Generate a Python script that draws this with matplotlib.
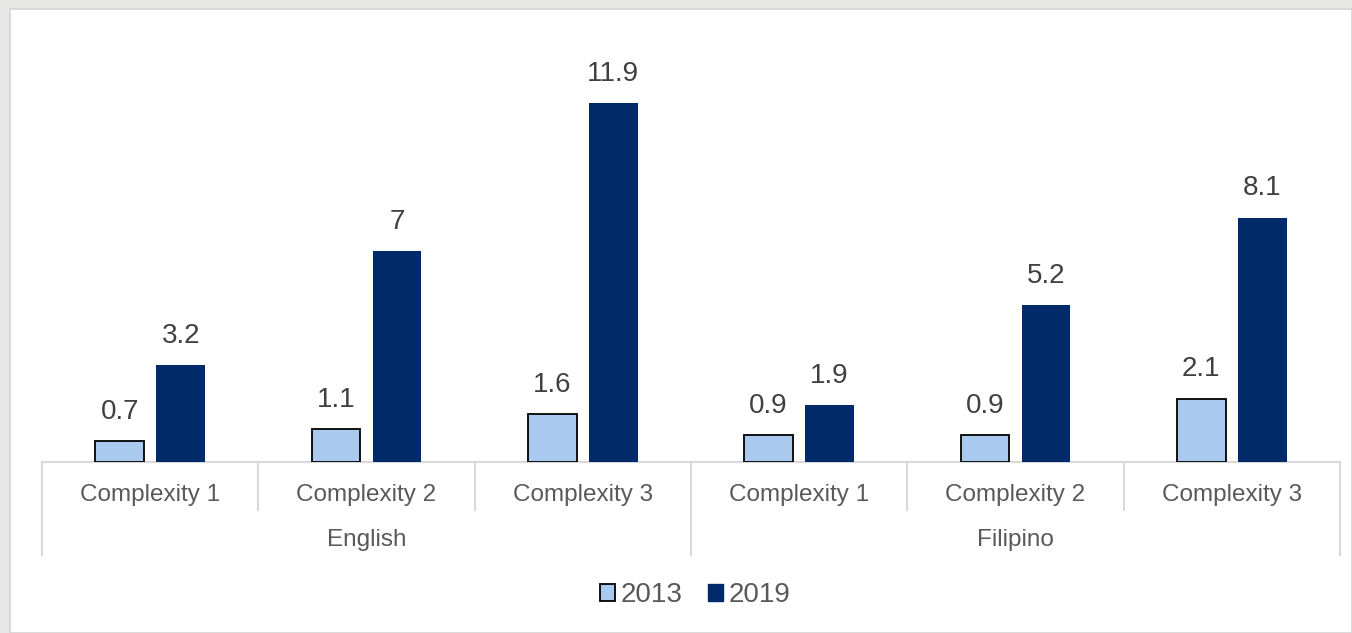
import matplotlib.pyplot as plt
from matplotlib.patches import Rectangle, Patch
import numpy as np

plt.rcParams['font.family'] = ['Liberation Sans', 'DejaVu Sans']

categories = ['Complexity 1', 'Complexity 2', 'Complexity 3',
              'Complexity 1', 'Complexity 2', 'Complexity 3']
groups = ['English', 'Filipino']
series_names = ['2013', '2019']
vals_2013 = [0.7, 1.1, 1.6, 0.9, 0.9, 2.1]
vals_2019 = [3.2, 7, 11.9, 1.9, 5.2, 8.1]

light = '#a9c9ef'
navy = '#002a68'
txt = '#404040'
grid_col = '#d9d9d9'

W, H = 1352, 633
fig = plt.figure(figsize=(W / 100, H / 100), dpi=100)
fig.patch.set_facecolor('#e7e7e6')
fig.patches.append(Rectangle((10 / W, 0), 1 - 10 / W, (H - 9) / H,
                             transform=fig.transFigure, facecolor='white',
                             edgecolor='#d4d4d4', lw=1.2, zorder=-10))

ymax = 12.5
px_per_unit = 30.17
ax_h = ymax * px_per_unit
ax = fig.add_axes([42 / W, (H - 462) / H, (1340 - 42) / W, ax_h / H])
ax.set_facecolor('none')

x = np.arange(len(categories)) + 0.5
off = 0.141
bw = 0.226
b1 = ax.bar(x - off, vals_2013, bw, color=light, edgecolor='black', lw=1.3, zorder=3)
b2 = ax.bar(x + off, vals_2019, bw, color=navy, zorder=3)

for bars, vals in [(b1, vals_2013), (b2, vals_2019)]:
    for r, v in zip(bars, vals):
        ax.annotate(f'{v:g}', (r.get_x() + r.get_width() / 2, v),
                    xytext=(0, 21), textcoords='offset points',
                    ha='center', va='center', fontsize=20, color=txt)

ax.set_xlim(0, len(categories))
ax.set_ylim(0, ymax)
for s in ['top', 'right', 'left']:
    ax.spines[s].set_visible(False)
ax.spines['bottom'].set_color(grid_col)
ax.spines['bottom'].set_linewidth(1.5)
ax.set_yticks([])
ax.set_xticks([])

tr = ax.get_xaxis_transform()
# separators
for i in range(len(categories) + 1):
    depth = 93 if i % 3 == 0 else 48
    ax.plot([i, i], [0, -depth / ax_h], transform=tr, color=grid_col,
            lw=1.5, clip_on=False)

for xi, lab in zip(x, categories):
    ax.text(xi, -33 / ax_h, lab, transform=tr, ha='center', va='center',
            fontsize=17.5, color='#595959')

for gi, g in enumerate(groups):
    ax.text(gi * 3 + 1.5, -78 / ax_h, g, transform=tr, ha='center',
            va='center', fontsize=17.5, color='#595959')

handles = [Patch(facecolor=light, edgecolor='black', lw=1.3),
           Patch(facecolor=navy, edgecolor=navy)]
fig.legend(handles, series_names, loc='center', bbox_to_anchor=(695 / W, (H - 595) / H),
           ncol=2, frameon=False, fontsize=20, handlelength=0.55, handleheight=0.55,
           handletextpad=0.2, columnspacing=0.9, labelcolor='#595959')

fig.savefig('out.png', dpi=100, facecolor=fig.get_facecolor())
